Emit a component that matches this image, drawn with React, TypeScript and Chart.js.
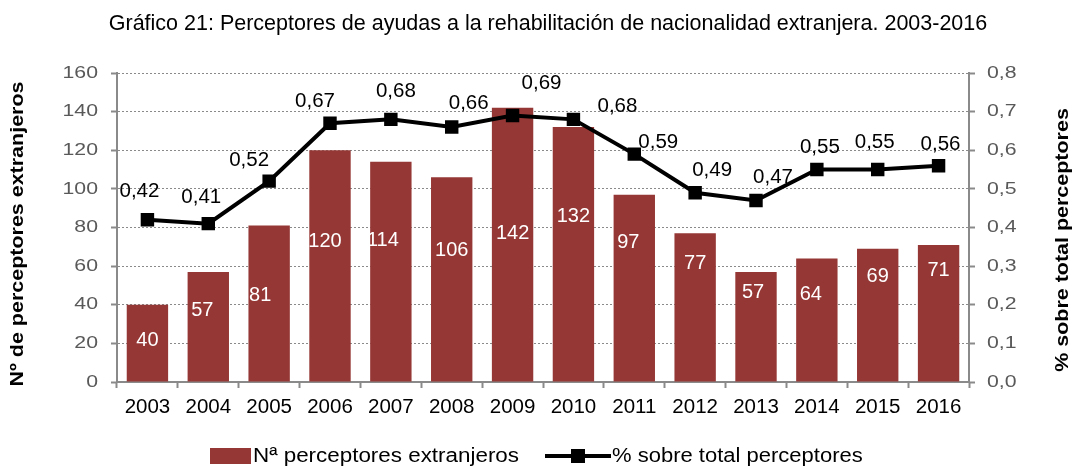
import React, { useEffect, useRef } from 'react';
import { Chart, registerables } from 'chart.js';

Chart.register(...registerables);

const years = ['2003', '2004', '2005', '2006', '2007', '2008', '2009', '2010', '2011', '2012', '2013', '2014', '2015', '2016'];
const perceptores = [40, 57, 81, 120, 114, 106, 142, 132, 97, 77, 57, 64, 69, 71];
const porcentaje = [0.42, 0.41, 0.52, 0.67, 0.68, 0.66, 0.69, 0.68, 0.59, 0.49, 0.47, 0.55, 0.55, 0.56];

const leftAxis = { min: 0, max: 160, step: 20 };
const rightAxis = { min: 0, max: 0.8, step: 0.1 };

// where each bar's value label sits, in left-axis units
const barLabelLevel = [21.6, 37.2, 44.6, 72.7, 73.5, 68.3, 77, 85.6, 72, 61.4, 46.2, 45.5, 54.5, 58];
// small horizontal nudges of the bar labels (px)
const barLabelShiftX = [0, -6, -9, -5, -8, 0, 0, 0, -6, 0, -3, -6, 0, 0];
// nudges of the line labels relative to their point (px)
const lineLabelShiftX = [-8, -7, -20, -15, 5, 17, 29, 44, 24, 17, 17, 3, -3, 2];
const lineLabelShiftY = [-28, -26, -21, -22, -28, -24, -32, -13, -12, -22, -23, -22, -27, -21];

const titleText = 'Gráfico 21: Perceptores de ayudas a la rehabilitación de nacionalidad extranjera. 2003-2016';
const leftTitle = 'Nº de perceptores extranjeros';
const rightTitle = '% sobre total perceptores';
const barLegend = 'Nª perceptores extranjeros';
const lineLegend = '% sobre total perceptores';

const FONT = "'Liberation Sans', Arial, sans-serif";
const BAR_COLOR = '#953735';
const GRID_COLOR = '#8a8a8a';

const fmt = (v: number, d: number) => v.toFixed(d).replace('.', ',');

function stretchedText(ctx: any, text: string, x: number, y: number, sx: number, align: string) {
  ctx.save();
  ctx.translate(x, y);
  ctx.scale(sx, 1);
  ctx.textAlign = align;
  ctx.fillText(text, 0, 0);
  ctx.restore();
}

const decorPlugin = {
  id: 'decor',
  afterDatasetsDraw(chart: any) {
    const ctx = chart.ctx;
    const yScale = chart.scales.y;
    const barMeta = chart.getDatasetMeta(0);
    const lineMeta = chart.getDatasetMeta(1);
    ctx.save();
    ctx.textAlign = 'center';
    ctx.textBaseline = 'middle';
    ctx.font = `20px ${FONT}`;
    ctx.fillStyle = '#ffffff';
    barMeta.data.forEach((el: any, i: number) => {
      ctx.fillText(String(perceptores[i]), el.x + barLabelShiftX[i], yScale.getPixelForValue(barLabelLevel[i]));
    });
    ctx.fillStyle = '#000000';
    ctx.font = `20.5px ${FONT}`;
    lineMeta.data.forEach((el: any, i: number) => {
      ctx.fillText(fmt(porcentaje[i], 2), el.x + lineLabelShiftX[i], el.y + lineLabelShiftY[i]);
    });
    ctx.restore();
  },
  afterDraw(chart: any) {
    const ctx = chart.ctx;
    const area = chart.chartArea;
    const yScale = chart.scales.y;
    const y1Scale = chart.scales.y1;
    ctx.save();
    ctx.textBaseline = 'middle';
    // value-axis tick labels, placed by the library's scales
    ctx.fillStyle = '#595959';
    ctx.font = `17px ${FONT}`;
    yScale.ticks.forEach((t: any) => {
      stretchedText(ctx, String(t.value), area.left - 19, yScale.getPixelForValue(t.value), 1.25, 'right');
    });
    y1Scale.ticks.forEach((t: any) => {
      stretchedText(ctx, fmt(t.value, 1), area.right + 18, y1Scale.getPixelForValue(t.value), 1.25, 'left');
    });
    // title
    ctx.fillStyle = '#000';
    ctx.textAlign = 'center';
    ctx.font = `21.5px ${FONT}`;
    ctx.fillText(titleText, 548, 24);
    // axis titles
    ctx.font = `bold 19px ${FONT}`;
    ctx.save();
    ctx.translate(18, 234);
    ctx.rotate(-Math.PI / 2);
    ctx.scale(1.13, 1);
    ctx.fillText(leftTitle, 0, 0);
    ctx.restore();
    ctx.save();
    ctx.translate(1063, 240);
    ctx.rotate(-Math.PI / 2);
    ctx.scale(1.13, 1);
    ctx.fillText(rightTitle, 0, 0);
    ctx.restore();
    // legend
    const ly = 456;
    ctx.font = `20px ${FONT}`;
    ctx.fillStyle = BAR_COLOR;
    ctx.fillRect(210, ly - 8, 41, 16);
    ctx.fillStyle = '#000';
    stretchedText(ctx, barLegend, 253, ly, 1.12, 'left');
    ctx.strokeStyle = '#000';
    ctx.lineWidth = 4;
    ctx.beginPath();
    ctx.moveTo(545, ly);
    ctx.lineTo(611, ly);
    ctx.stroke();
    ctx.fillRect(578 - 7, ly - 7, 14, 14);
    stretchedText(ctx, lineLegend, 612, ly, 1.1, 'left');
    ctx.restore();
  },
};

export default function App() {
  const ref = useRef<HTMLCanvasElement>(null);
  useEffect(() => {
    document.body.style.margin = '0';
    const canvas = ref.current;
    if (!canvas) return;
    const chart = new Chart(canvas, {
      type: 'bar',
      data: {
        labels: years,
        datasets: [
          {
            type: 'bar',
            label: barLegend,
            data: perceptores,
            backgroundColor: BAR_COLOR,
            yAxisID: 'y',
            barPercentage: 0.68,
            categoryPercentage: 1,
            order: 2,
          },
          {
            type: 'line',
            label: lineLegend,
            data: porcentaje,
            borderColor: '#000',
            backgroundColor: '#000',
            borderWidth: 4,
            pointStyle: 'rect',
            pointRadius: 9.5,
            pointBorderWidth: 0,
            pointBackgroundColor: '#000',
            yAxisID: 'y1',
            tension: 0,
            order: 1,
          } as any,
        ],
      },
      options: {
        animation: false,
        responsive: false,
        devicePixelRatio: 1,
        layout: { padding: { top: 73, left: 0, right: 0, bottom: 0 } },
        plugins: {
          legend: { display: false },
          title: { display: false },
          tooltip: { enabled: false },
        },
        scales: {
          x: {
            offset: true,
            grid: {
              display: true,
              drawOnChartArea: false,
              drawTicks: true,
              tickLength: 6,
              tickColor: GRID_COLOR,
              tickWidth: 2,
              offset: true,
            },
            border: { display: true, color: GRID_COLOR, width: 2 },
            ticks: { color: '#000', font: { family: FONT, size: 20.5 }, padding: 7, maxRotation: 0, autoSkip: false },
            afterFit: (s: any) => { s.height = 84; },
          },
          y: {
            position: 'left',
            min: leftAxis.min,
            max: leftAxis.max,
            ticks: { stepSize: leftAxis.step, display: false },
            grid: { color: GRID_COLOR, lineWidth: 1, tickLength: 6, tickColor: GRID_COLOR, tickWidth: 2 },
            border: { display: true, color: GRID_COLOR, width: 2, dash: [2, 2] },
            afterFit: (s: any) => { s.width = 117; },
          },
          y1: {
            position: 'right',
            min: rightAxis.min,
            max: rightAxis.max,
            ticks: { stepSize: rightAxis.step, display: false },
            grid: { drawOnChartArea: false, tickLength: 6, tickColor: GRID_COLOR, tickWidth: 2 },
            border: { display: true, color: GRID_COLOR, width: 2 },
            afterFit: (s: any) => { s.width = 105; },
          },
        },
      } as any,
      plugins: [decorPlugin],
    });
    return () => chart.destroy();
  }, []);
  return <canvas ref={ref} width={1074} height={466} style={{ display: 'block', width: 1074, height: 466 }} />;
}
